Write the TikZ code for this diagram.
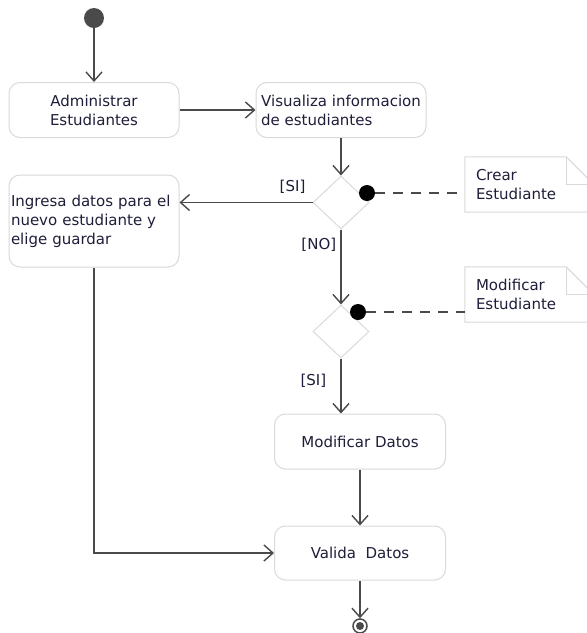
\documentclass[tikz,border=0pt]{standalone}
\usepackage{fontspec}
\setmainfont{DejaVu Sans}
\usetikzlibrary{arrows.meta,shapes.geometric,calc}
\definecolor{edge}{HTML}{4A4A4A}
\definecolor{boxline}{HTML}{DADADA}
\definecolor{txt}{HTML}{1E1E3A}
\tikzset{
  lbl/.style={font=\fontsize{15}{19}\selectfont, text=txt, inner sep=0pt},
  activity/.style={lbl, draw=boxline, line width=1pt, rounded corners=11pt, fill=white,
     minimum width=170pt, align=left},
  choice/.style={diamond, draw=boxline, line width=1pt, fill=white, inner sep=0pt,
     minimum width=56pt, minimum height=53pt},
  guard/.style={circle, fill=black, inner sep=0pt, minimum size=16pt},
  flow/.style={draw=edge, line width=1.6pt, -{Straight Barb[length=9pt,width=16pt,line width=1.4pt]}},
  anchorline/.style={draw=edge, line width=1.6pt, dash pattern=on 10pt off 8pt},
  notebox/.style={lbl, align=left, minimum width=129pt, minimum height=55pt, text width=107pt},
  noteline/.style={draw=boxline, line width=1pt},
}
\begin{document}
\begin{tikzpicture}[x=1pt,y=-1pt]
\useasboundingbox[fill=white] (0,0) rectangle (587,633);

% initial node
\node[circle, fill=edge, inner sep=0pt, minimum size=20pt] (init) at (94,18) {};

% activities
\node[activity, minimum height=55pt, align=center] (adm) at (94,110) {Administrar\\Estudiantes};
\node[activity, minimum height=55pt] (vis) at (341,110) {Visualiza informacion\\de estudiantes};
\node[activity, minimum height=92pt, text width=166pt] (ing) at (94,221) {Ingresa datos para el\\nuevo estudiante y\\elige guardar};
\node[activity, minimum width=171pt, minimum height=55pt, align=center] (mod) at (360,441.5) {Modificar Datos};
\node[activity, minimum width=171pt, minimum height=54pt, align=center] (val) at (360,553) {Valida~~Datos};

% decisions
\node[choice] (g1) at (341,202.5) {};
\node[choice] (g2) at (341,331.5) {};
\node[guard] (d1) at (367,193) {};
\node[guard] (d2) at (358,312) {};

% notes
\node[notebox] (n1) at (529.5,184.5) {Crear\\Estudiante};
\node[notebox] (n2) at (529.5,294.5) {Modificar\\Estudiante};
\foreach \n in {n1,n2}{
  \draw[noteline] (\n.north west) -- ($(\n.north east)+(-28,0)$) -- ($(\n.north east)+(0,28)$)
     -- (\n.south east) -- (\n.south west) -- cycle;
  \draw[noteline] ($(\n.north east)+(-28,0)$) -- ($(\n.north east)+(-28,28)$) -- ($(\n.north east)+(0,28)$);
}

% final node
\node[circle, draw=edge, line width=1.5pt, inner sep=0pt, minimum size=14pt] (fin) at (360,626) {};
\fill[edge] (fin.center) circle (4pt);

% connectors
\draw[flow] (init) -- (adm.north);
\draw[flow] (adm.east) -- (vis.west);
\draw[flow] (vis.south) -- (g1.north);
\draw[flow] (g1.west) -- (g1.west -| ing.east) node[lbl, pos=0.15, above=8pt] (l1) {[SI]};
\draw[flow] (g1.south) -- (g2.north) node[lbl, pos=0.2, left=4pt] (l2) {[NO]};
\draw[flow] (g2.south) -- (g2.south |- mod.north) node[lbl, pos=0.4, left=14pt] (l3) {[SI]};
\draw[flow] (mod.south) -- (val.north);
\draw[flow] (ing.south) |- (val.west);
\draw[flow] (val.south) -- (fin.north);
\draw[anchorline] (d1.east) -- (d1.east -| n1.west);
\draw[anchorline] (d2.east) -- (d2.east -| n2.west);
\end{tikzpicture}
\end{document}
